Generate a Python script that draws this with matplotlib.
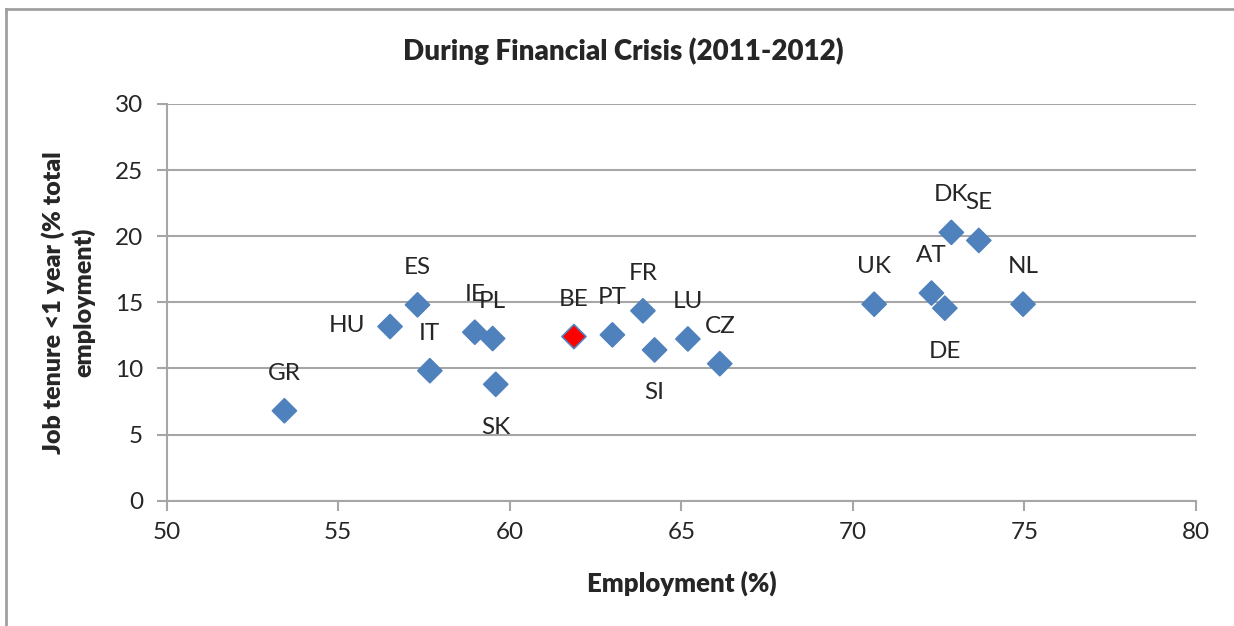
import matplotlib.pyplot as plt

countries = ['GR', 'HU', 'ES', 'IT', 'IE', 'PL', 'SK', 'BE', 'PT', 'FR', 'SI',
             'LU', 'CZ', 'UK', 'AT', 'DE', 'NL', 'DK', 'SE']
employment = [53.43, 56.51, 57.31, 57.67, 58.98, 59.50, 59.59, 61.87, 62.99, 63.88,
              64.22, 65.19, 66.12, 70.62, 72.29, 72.68, 74.96, 72.87, 73.67]
tenure = [6.80, 13.17, 14.81, 9.83, 12.74, 12.26, 8.80, 12.41, 12.54, 14.36,
          11.40, 12.23, 10.36, 14.86, 15.70, 14.56, 14.86, 20.29, 19.68]
# where the data label sits relative to the marker
label_pos = ['above', 'left', 'above', 'above', 'above', 'above', 'below', 'above',
             'above', 'above', 'below', 'above', 'above', 'above', 'above', 'below',
             'above', 'above', 'above']
highlight = 'BE'

plt.rcParams['font.family'] = ['Lato', 'DejaVu Sans']
txt = '#262626'
grid_c = '#a6a6a6'
blue = '#4f81bd'

fig = plt.figure(figsize=(12.34, 6.26), dpi=100)
ax = fig.add_axes([0.1351, 0.2002, 0.9692 - 0.1351, 0.8339 - 0.2002])

# outer chart border (top and left visible)
fig.add_artist(plt.Line2D([0.0045, 0.0045], [0, 0.986], transform=fig.transFigure,
                          color='#a0a0a0', lw=2))
fig.add_artist(plt.Line2D([0.0045, 1], [0.986, 0.986], transform=fig.transFigure,
                          color='#a0a0a0', lw=2))

colors = ['#ff0000' if c == highlight else blue for c in countries]
ax.scatter(employment, tenure, marker='D', s=150, c=colors, edgecolors=blue,
           linewidths=1.2, zorder=3)

offsets = {'above': (0, 27, 'center'), 'below': (0, -31, 'center'),
           'left': (-31, 1, 'center')}
for c, x, y, p in zip(countries, employment, tenure, label_pos):
    dx, dy, ha = offsets[p]
    ax.annotate(c, (x, y), xytext=(dx, dy), textcoords='offset points',
                ha=ha, va='center', fontsize=17.5, color=txt)

ax.set_xlim(50, 80)
ax.set_ylim(0, 30)
ax.set_xticks(range(50, 81, 5))
ax.set_yticks(range(0, 31, 5))
ax.grid(axis='y', color=grid_c, lw=1.5)
ax.set_axisbelow(True)
for s in ['top', 'right']:
    ax.spines[s].set_visible(False)
for s in ['left', 'bottom']:
    ax.spines[s].set_color(grid_c)
    ax.spines[s].set_linewidth(1.5)
ax.tick_params(axis='both', colors=grid_c, width=1.5, length=7, labelsize=17.5,
               labelcolor=txt)
ax.tick_params(axis='x', pad=8)
ax.tick_params(axis='y', pad=10)

fig.text(0.505, 1 - 51 / 626, 'During Financial Crisis (2011-2012)', fontsize=20,
         fontweight='heavy', color=txt, ha='center', va='center')
ax.set_xlabel('Employment (%)', fontsize=18.5, fontweight='heavy', color=txt,
              labelpad=20)
ax.set_ylabel('Job tenure <1 year (% total\nemployment)', fontsize=18,
              fontweight='heavy', color=txt, labelpad=14, linespacing=1.35)

plt.savefig('out.png', dpi=100)
